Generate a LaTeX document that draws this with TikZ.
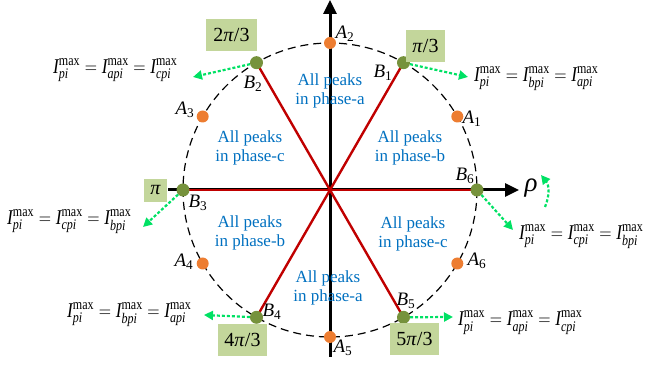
\documentclass[tikz,border=0pt]{standalone}
\usepackage{fontspec}
\usepackage{amsmath}
\usepackage{graphicx}
\setmainfont{Liberation Serif}
\usetikzlibrary{arrows.meta}
\definecolor{myred}{RGB}{192,0,0}
\definecolor{myblue}{RGB}{0,112,192}
\definecolor{myorange}{RGB}{237,125,49}
\definecolor{myolive}{RGB}{118,146,60}
\definecolor{mygreen}{RGB}{0,225,100}
\definecolor{boxfill}{RGB}{195,214,155}
\newcommand{\Imx}[1]{\text{\itshape I}^{\text{max}}_{\text{\itshape #1}}}
\newcommand{\Feq}[3]{\scalebox{0.82}[1]{$\Imx{#1}=\Imx{#2}=\Imx{#3}$}}
\newcommand{\lab}[2]{$\text{\itshape #1}_{\text{#2}}$}
\begin{document}
\begin{tikzpicture}[x=1pt,y=-1pt,
 adot/.style={circle,fill=myorange,minimum size=12pt,inner sep=0},
 bdot/.style={circle,fill=myolive,minimum size=13pt,inner sep=0},
 lbl/.style={font=\fontsize{19}{20}\selectfont,inner sep=0},
 region/.style={text=myblue,align=center,font=\fontsize{17}{18.5}\selectfont,inner sep=0},
 anglebox/.style={fill=boxfill,font=\fontsize{20}{22}\selectfont,inner sep=0,minimum height=32pt},
 formula/.style={font=\fontsize{21}{23}\selectfont,inner sep=0,anchor=west},
 garrow/.style={mygreen,line width=2.2pt,dash pattern=on 3pt off 2pt,-{Triangle[length=9pt,width=9pt]}},
 spoke/.style={myred,line width=2.4pt},
 axis/.style={line width=3pt,-{Triangle[length=14pt,width=13pt]}}
]
\useasboundingbox (0,0) rectangle (649,371);
\coordinate (O) at (330,190);
% dashed circle
\draw[line width=1.2pt,dash pattern=on 8pt off 5pt] (O) circle (147);
% axes
\coordinate (hl) at (168,190);
\coordinate (hr) at (519,190);
\coordinate (vb) at (330,357);
\coordinate (vt) at (330,0);
\draw[axis] (hl) -- (hr);
\draw[axis] (vb) -- (vt);
% B points
\coordinate (b1) at (403.5,62.7);
\coordinate (b2) at (256.5,62.7);
\coordinate (b3) at (183,190);
\coordinate (b4) at (256.5,317.3);
\coordinate (b5) at (403.5,317.3);
\coordinate (b6) at (477,190);
% spokes
\foreach \i in {1,...,6} \draw[spoke] (O) -- (b\i);
% A dots
\node[adot] (A1) at (457.3,116.5) {};
\node[adot] (A2) at (330,43) {};
\node[adot] (A3) at (202.7,116.5) {};
\node[adot] (A4) at (202.7,263.5) {};
\node[adot] (A5) at (330,337) {};
\node[adot] (A6) at (457.3,263.5) {};
% B dots
\foreach \i in {1,...,6} \node[bdot] (B\i) at (b\i) {};
% labels
\node[lbl] (lA1) at (472,119) {\lab{A}{1}};
\node[lbl] (lA2) at (345,34) {\lab{A}{2}};
\node[lbl] (lA3) at (185,110) {\lab{A}{3}};
\node[lbl] (lA4) at (184,262) {\lab{A}{4}};
\node[lbl] (lA5) at (343,348) {\lab{A}{5}};
\node[lbl] (lA6) at (477,261) {\lab{A}{6}};
\node[lbl] (lB1) at (383,73) {\lab{B}{1}};
\node[lbl] (lB2) at (253,84) {\lab{B}{2}};
\node[lbl] (lB3) at (198,203) {\lab{B}{3}};
\node[lbl] (lB4) at (272,312) {\lab{B}{4}};
\node[lbl] (lB5) at (406,301) {\lab{B}{5}};
\node[lbl] (lB6) at (465,176) {\lab{B}{6}};
% angle boxes
\node[anglebox,minimum width=51pt] (t2) at (231.5,35) {2\textit{π}/3};
\node[anglebox,minimum width=39pt] (t1) at (425.5,46) {\textit{π}/3};
\node[anglebox,minimum width=23pt,minimum height=23pt] (t3) at (155.5,190.5) {\textit{π}};
\node[anglebox,minimum width=49pt] (t4) at (242.5,340) {4\textit{π}/3};
\node[anglebox,minimum width=49pt] (t5) at (414.5,339) {5\textit{π}/3};
% rho
\node[font=\fontsize{27}{27}\selectfont\itshape,inner sep=0] (rho) at (531,188) {ρ};
\coordinate (rs) at (545,207);
\coordinate (re) at (541,175);
\draw[garrow] (rs) .. controls (550,195) and (549,185) .. (re);
% green arrows
\coordinate (g1) at (468,77);
\coordinate (g2) at (193,77);
\coordinate (g3) at (143,227);
\coordinate (g4) at (204,315);
\coordinate (g5) at (453,317);
\coordinate (g6) at (513,230);
\foreach \i in {1,...,6} \draw[garrow] (B\i) -- (g\i);
% formulas
\node[formula] (f2) at (53,70) {\Feq{pi}{api}{cpi}};
\node[formula] (f1) at (474,78.5) {\Feq{pi}{bpi}{api}};
\node[formula] (f3) at (7,221.5) {\Feq{pi}{cpi}{bpi}};
\node[formula] (f6) at (519,236.5) {\Feq{pi}{cpi}{bpi}};
\node[formula] (f4) at (67,314.5) {\Feq{pi}{bpi}{api}};
\node[formula] (f5) at (458,322.5) {\Feq{pi}{api}{cpi}};
% regions
\node[region] (ra1) at (330,91) {All peaks\\in phase-a};
\node[region] (rb1) at (410,148) {All peaks\\in phase-b};
\node[region] (rc1) at (250,148) {All peaks\\in phase-c};
\node[region] (rb2) at (250,233) {All peaks\\in phase-b};
\node[region] (rc2) at (413,234) {All peaks\\in phase-c};
\node[region] (ra2) at (328,288) {All peaks\\in phase-a};
\end{tikzpicture}
\end{document}
